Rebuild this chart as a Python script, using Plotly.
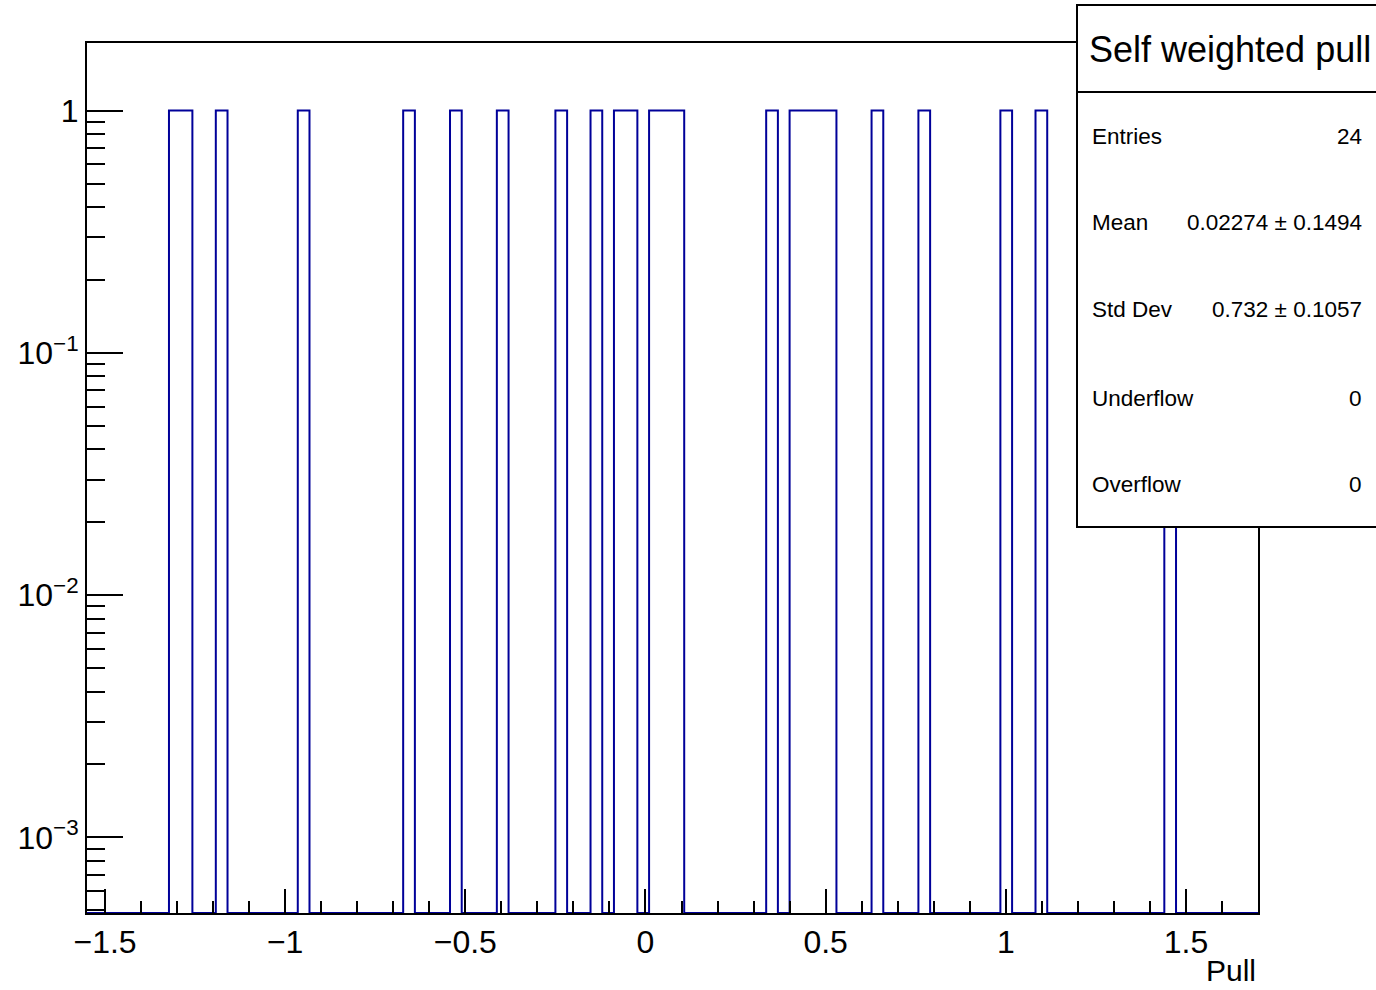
import plotly.graph_objects as go

# ---- data ----
bin_low = -1.55
bin_high = 1.70
n_bins = 100
counts = [
    0, 0, 0, 0, 0, 0, 0, 1, 1, 0,
    0, 1, 0, 0, 0, 0, 0, 0, 1, 0,
    0, 0, 0, 0, 0, 0, 0, 1, 0, 0,
    0, 1, 0, 0, 0, 1, 0, 0, 0, 0,
    1, 0, 0, 1, 0, 1, 1, 0, 1, 1,
    1, 0, 0, 0, 0, 0, 0, 0, 1, 0,
    1, 1, 1, 1, 0, 0, 0, 1, 0, 0,
    0, 1, 0, 0, 0, 0, 0, 0, 1, 0,
    0, 1, 0, 0, 0, 0, 0, 0, 0, 0,
    0, 0, 1, 0, 0, 0, 0, 0, 0, 0,
]
stats_title = "Self weighted pull"
stats_labels = ["Entries", "Mean", "Std Dev", "Underflow", "Overflow"]
stats_values = ["24", "0.02274 ± 0.1494", "0.732 ± 0.1057", "0", "0"]
x_title = "Pull"
y_tickvals = [1e-3, 1e-2, 1e-1, 1]
y_ticktext = ["10<sup>−3</sup>", "10<sup>−2</sup>", "10<sup>−1</sup>", "1"]
x_tickvals = [-1.5, -1, -0.5, 0, 0.5, 1, 1.5]
x_ticktext = ["−1.5", "−1", "−0.5", "0", "0.5", "1", "1.5"]

# ---- layout geometry ----
W, H = 1376, 990
L, R, T, B = 87, 1258, 43, 913
ylog_min, ylog_max = -3.312, 0.279
floor = 10 ** ylog_min

width = (bin_high - bin_low) / n_bins
edges = [bin_low + i * width for i in range(n_bins + 1)]
ys = [c if c > 0 else floor for c in counts]
ys = ys + [ys[-1]]

FONT = "Liberation Sans, Arial, Helvetica, sans-serif"

fig = go.Figure()
fig.add_trace(go.Scatter(
    x=edges, y=ys, mode="lines", line=dict(shape="hv", color="#000099", width=2),
    showlegend=False, hoverinfo="skip",
))

minor_y = []
for e in range(-4, 1):
    for m in range(2, 10):
        minor_y.append(m * 10 ** e)

def px_x(p):
    return (p - L) / (R - L)

def px_y(p):
    return (B - p) / (B - T)

fig.update_layout(
    width=W, height=H,
    margin=dict(l=L, r=W - R, t=T, b=H - B),
    paper_bgcolor="white", plot_bgcolor="white",
    font=dict(family=FONT, color="black"),
    xaxis=dict(
        range=[bin_low, bin_high], showgrid=False, zeroline=False,
        showline=True, linecolor="black", linewidth=2, mirror=True,
        ticks="inside", ticklen=24, tickwidth=2, tickcolor="black",
        tickmode="array", tickvals=x_tickvals, ticktext=x_ticktext,
        tickfont=dict(size=32, family=FONT),
        minor=dict(ticks="inside", ticklen=12, tickwidth=2, tickcolor="black",
                   tickmode="linear", tick0=0, dtick=0.1),
    ),
    yaxis=dict(
        type="log", range=[ylog_min, ylog_max], showgrid=False, zeroline=False,
        showline=True, linecolor="black", linewidth=2, mirror=True,
        ticks="inside", ticklen=36, tickwidth=2, tickcolor="black",
        tickmode="array", tickvals=y_tickvals, ticktext=y_ticktext,
        tickfont=dict(size=32, family=FONT),
        minor=dict(ticks="inside", ticklen=18, tickwidth=2, tickcolor="black",
                   tickmode="array", tickvals=minor_y),
    ),
)

# stats box
bx0, bx1 = px_x(1077), px_x(1390)
by_top, by_bot, by_sep = px_y(5), px_y(527), px_y(92)
fig.add_shape(type="rect", xref="paper", yref="paper", x0=bx0, x1=bx1, y0=by_bot, y1=by_top,
              line=dict(color="black", width=2), fillcolor="white", layer="above")
fig.add_shape(type="line", xref="paper", yref="paper", x0=bx0, x1=bx1, y0=by_sep, y1=by_sep,
              line=dict(color="black", width=2), layer="above")
fig.add_annotation(xref="paper", yref="paper", x=px_x(1087), y=px_y(49), xanchor="left", yanchor="middle",
                   text=stats_title, showarrow=False, font=dict(size=36, family=FONT, color="black"))
row_y = [136, 222, 310, 398, 484]
for lab, val, py in zip(stats_labels, stats_values, row_y):
    fig.add_annotation(xref="paper", yref="paper", x=px_x(1090), y=px_y(py), xanchor="left", yanchor="middle",
                       text=lab, showarrow=False, font=dict(size=22.5, family=FONT, color="black"))
    fig.add_annotation(xref="paper", yref="paper", x=px_x(1364), y=px_y(py), xanchor="right", yanchor="middle",
                       text=val, showarrow=False, font=dict(size=22.5, family=FONT, color="black"))

# x-axis title
fig.add_annotation(xref="paper", yref="paper", x=1.0, y=px_y(970), xanchor="right", yanchor="middle",
                   text=x_title, showarrow=False, font=dict(size=30, family=FONT, color="black"))

fig.write_html(
    "out.html",
    config={"displayModeBar": False},
    post_script="document.body.style.margin='0px';document.body.style.overflow='hidden';",
)
